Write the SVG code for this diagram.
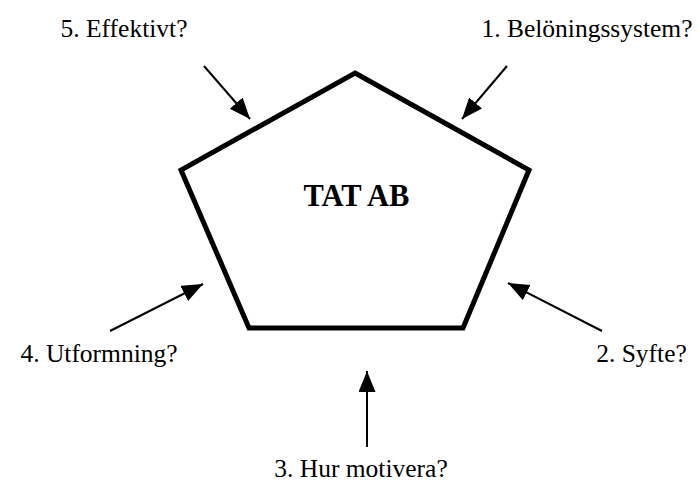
<svg xmlns="http://www.w3.org/2000/svg" width="698" height="484" viewBox="0 0 698 484">
<style>
.lbl{font-family:"Liberation Serif","Times New Roman",serif;font-size:25.5px;fill:#000}
.title{font-family:"Liberation Serif","Times New Roman",serif;font-size:30.5px;font-weight:bold;fill:#000}
.arr{stroke:#000;stroke-width:2;fill:none;marker-end:url(#ah)}
</style>
<defs>
<marker id="ah" markerUnits="userSpaceOnUse" markerWidth="22" markerHeight="18" refX="21" refY="8.5" orient="auto" viewBox="0 0 22 18">
<path d="M0,0 L21,8.5 L0,17 z" fill="#000"/>
</marker>
</defs>
<rect width="698" height="484" fill="#fff"/>
<g id="pentagon">
<polygon points="355,73 529,170 463,328 249,328 181,170" fill="#fff" stroke="#000" stroke-width="5" stroke-linejoin="miter"/>
<text class="title" x="356.5" y="206" text-anchor="middle">TAT AB</text>
</g>
<g id="n1"><text class="lbl" x="587" y="37" text-anchor="middle">1. Belöningssystem?</text></g>
<g id="n2"><text class="lbl" x="641.5" y="362" text-anchor="middle">2. Syfte?</text></g>
<g id="n3"><text class="lbl" x="361" y="477" text-anchor="middle">3. Hur motivera?</text></g>
<g id="n4"><text class="lbl" x="99" y="362" text-anchor="middle">4. Utformning?</text></g>
<g id="n5"><text class="lbl" x="124" y="37" text-anchor="middle">5. Effektivt?</text></g>
<g id="connectors">
<line class="arr" x1="507" y1="66" x2="462" y2="119"/>
<line class="arr" x1="602" y1="331" x2="508" y2="283"/>
<line class="arr" x1="367" y1="447" x2="367" y2="371"/>
<line class="arr" x1="110" y1="331" x2="203" y2="284"/>
<line class="arr" x1="204" y1="66" x2="250" y2="119"/>
</g>
</svg>
